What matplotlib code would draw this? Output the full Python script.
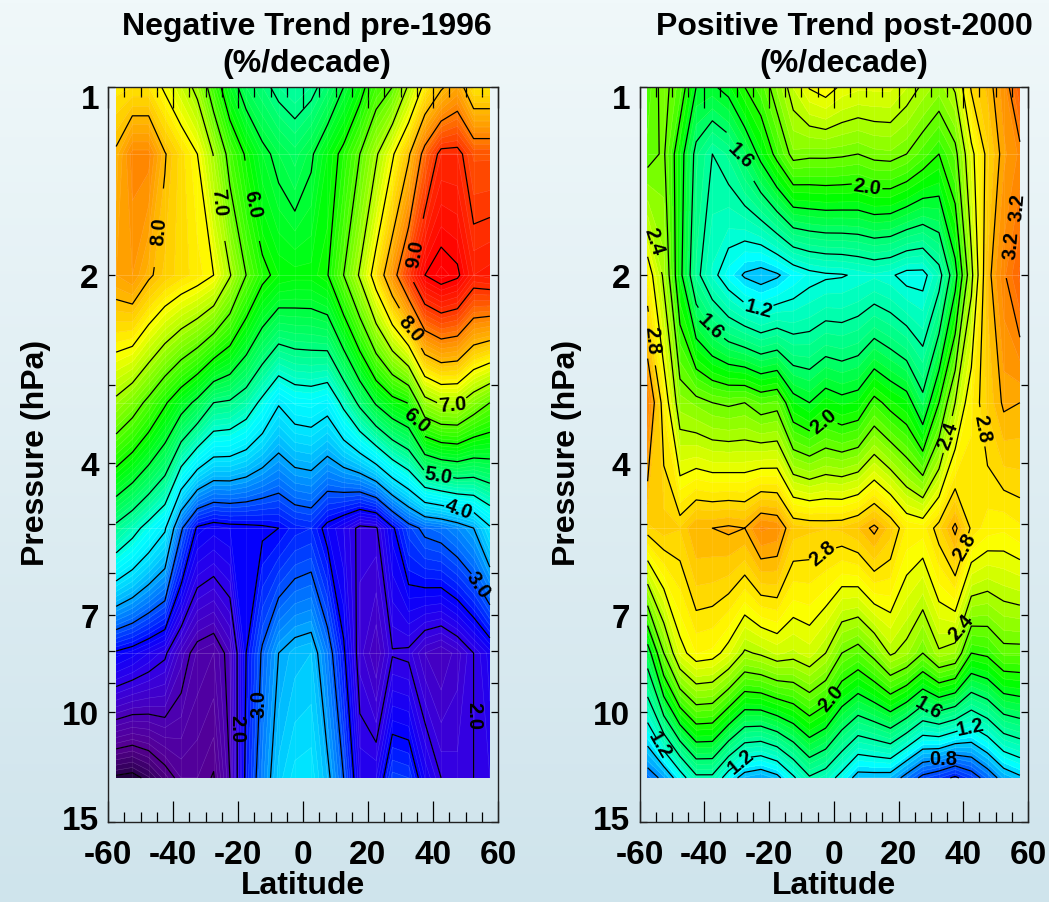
import numpy as np
import matplotlib
matplotlib.use('Agg')
import matplotlib.pyplot as plt
from matplotlib.colors import LinearSegmentedColormap
from matplotlib.ticker import NullFormatter
from matplotlib.transforms import ScaledTranslation

plt.rcParams['font.family'] = ['Liberation Sans', 'DejaVu Sans']
plt.rcParams['font.weight'] = 'bold'
plt.rcParams['axes.unicode_minus'] = False

lat = [-57.5, -52.5, -47.5, -42.5, -37.5, -32.5, -27.5, -22.5, -17.5, -12.5, -7.5, -2.5,
       2.5, 7.5, 12.5, 17.5, 22.5, 27.5, 32.5, 37.5, 42.5, 47.5, 52.5, 57.5]
pressure = [1.0, 1.28, 2.0, 3.2, 5.08, 8.05, 12.75]

pre_1996 = [
    [7.65, 7.7, 7.7, 7.45, 7.2, 6.9, 6.25, 5.7, 5.3, 5.1, 4.9, 4.8, 4.9, 5.15, 5.5, 5.85, 6.3, 6.5, 7.05, 7.6, 7.95, 8.2, 7.67, 7.67],
    [8.05, 8.45, 8.45, 8.02, 7.75, 7.5, 6.98, 6.35, 5.95, 5.6, 5.4, 5.25, 5.45, 5.8, 6.1, 6.5, 6.95, 7.45, 7.95, 8.65, 9.1, 9.1, 8.78, 8.78],
    [8.2, 8.3, 8.05, 7.87, 7.75, 7.65, 7.5, 7.03, 6.5, 6.1, 5.9, 5.85, 5.85, 5.98, 6.5, 7.05, 7.7, 8.33, 8.95, 9.5, 9.65, 9.55, 9.2, 9.25],
    [6.92, 6.7, 6.4, 6.05, 5.7, 5.4, 5.0, 4.95, 4.75, 4.4, 4.03, 4.22, 4.25, 4.15, 4.6, 5.1, 5.55, 5.85, 6.02, 6.85, 7.05, 7.05, 6.75, 6.5],
    [4.9, 4.65, 4.35, 4.05, 3.05, 2.45, 2.35, 2.4, 2.42, 2.45, 2.5, 2.65, 2.7, 2.4, 2.2, 1.93, 1.97, 2.45, 2.86, 3.08, 3.15, 3.3, 3.5, 3.95],
    [2.45, 2.35, 2.2, 2.05, 1.65, 1.38, 1.3, 1.6, 2.5, 3.05, 3.5, 3.65, 3.7, 3.2, 2.55, 1.85, 1.6, 1.98, 1.95, 1.7, 1.6, 1.75, 2.0, 2.25],
    [0.45, 0.4, 0.58, 0.85, 1.1, 1.1, 0.98, 1.5, 2.6, 3.25, 3.75, 3.95, 3.98, 3.6, 3.0, 2.2, 2.2, 2.85, 2.8, 2.3, 2.0, 1.95, 2.0, 2.1],
]
post_2000 = [
    [2.1, 2.25, 2.1, 1.8, 1.78, 1.85, 2.0, 2.1, 2.28, 2.47, 2.61, 2.66, 2.58, 2.55, 2.55, 2.55, 2.47, 2.38, 2.3, 2.42, 2.82, 2.95, 3.1, 3.4],
    [2.15, 2.22, 1.88, 1.55, 1.4, 1.48, 1.65, 1.85, 2.05, 2.25, 2.23, 2.23, 2.22, 2.2, 2.24, 2.25, 2.2, 2.1, 2.0, 2.15, 2.55, 2.85, 3.05, 3.15],
    [2.7, 2.37, 1.85, 1.45, 1.25, 1.1, 0.98, 0.93, 0.98, 1.08, 1.15, 1.18, 1.19, 1.22, 1.25, 1.22, 1.15, 1.15, 1.33, 1.73, 2.35, 2.95, 3.18, 3.35],
    [3.2, 2.72, 2.3, 2.25, 2.2, 2.18, 2.2, 2.12, 2.15, 1.87, 1.8, 1.9, 1.85, 1.88, 2.05, 1.95, 1.88, 1.65, 2.0, 2.4, 2.72, 2.88, 3.02, 3.0],
    [2.85, 2.9, 2.87, 3.0, 3.0, 3.02, 3.0, 3.15, 3.12, 2.9, 2.88, 2.87, 2.88, 2.93, 3.03, 2.9, 2.72, 2.7, 2.85, 3.03, 2.78, 2.7, 2.68, 2.72],
    [1.7, 2.2, 2.55, 2.67, 2.65, 2.55, 2.38, 2.42, 2.48, 2.45, 2.5, 2.4, 2.2, 2.13, 2.25, 2.42, 2.35, 2.2, 2.38, 2.33, 2.0, 2.03, 2.15, 2.15],
    [0.7, 0.85, 1.1, 1.36, 1.36, 1.1, 0.92, 0.87, 0.95, 1.17, 1.38, 1.3, 1.13, 0.93, 0.93, 0.92, 0.73, 0.55, 0.47, 0.37, 0.5, 0.68, 0.88, 0.97],
]

lat_ticks = [-60, -40, -20, 0, 20, 40, 60]
p_ticks = [1, 2, 4, 7, 10, 15]
p_minor = [3, 5, 6, 8, 9]

pre_labels = [2.0, 3.0, 4.0, 5.0, 6.0, 7.0, 8.0, 9.0]
post_labels = [0.8, 1.2, 1.6, 2.0, 2.4, 2.8, 3.2]
pre_spots = [(-45.4, 1.68), (-25.1, 1.51), (-15.7, 1.54), (33.8, 1.82), (32.8, 2.45), (45.9, 3.06), (34.7, 3.42),
             (42, 4.08), (48.4, 4.65), (54, 6.24), (53, 10.1), (-14.6, 9.68), (-20.2, 10.6)]
pre_angles = [85, -85, -78, 80, -50, 5, -40, -10, -20, -55, -90, 90, -90]
post_spots = [(-28.1, 1.23), (10.3, 1.44), (-55.7, 1.76), (-55.5, 2.53), (53.3, 1.47), (54.5, 1.76), (-23.3, 2.27),
              (-38.2, 2.42), (-4.3, 3.32), (34.3, 3.59), (46.6, 3.5), (-2, 5.69), (40, 5.42), (37.9, 7.28),
              (-1.2, 9.47), (30.2, 9.78), (41, 10.5), (31.9, 11.75), (-29.5, 11.96), (-52.6, 11.25)]
post_angles = [-45, -8, -72, -85, 85, 85, -15, -45, 40, 70, -80, 40, 60, 50, 50, -30, 12, 0, 40, -60]

pre_colors = [(0.3, (20, 0, 40)), (0.6, (50, 0, 90)), (1.0, (85, 0, 145)), (1.5, (75, 0, 180)), (2.0, (50, 0, 230)),
              (2.5, (0, 0, 255)), (3.0, (0, 90, 255)), (3.5, (0, 170, 255)), (3.9, (0, 225, 255)), (4.3, (0, 255, 255)),
              (4.8, (0, 255, 160)), (5.5, (0, 255, 60)), (5.9, (0, 255, 0)), (6.5, (90, 255, 0)), (7.2, (200, 255, 0)),
              (7.5, (255, 255, 0)), (8.0, (255, 190, 0)), (8.5, (255, 130, 0)), (9.0, (255, 50, 0)), (9.5, (255, 0, 0)),
              (10.0, (255, 0, 0))]
post_colors = [(0.3, (0, 0, 230)), (0.5, (0, 60, 255)), (0.7, (0, 110, 255)), (1.0, (0, 210, 255)), (1.1, (0, 255, 255)),
               (1.3, (0, 255, 190)), (1.6, (0, 255, 110)), (1.9, (0, 255, 0)), (2.2, (110, 255, 0)), (2.5, (210, 255, 0)),
               (2.65, (255, 255, 0)), (2.9, (255, 205, 0)), (3.1, (255, 150, 0)), (3.4, (255, 90, 0)), (3.6, (255, 60, 0))]


def make_cmap(anchors):
    lo, hi = anchors[0][0], anchors[-1][0]
    stops = [((v - lo) / (hi - lo), tuple(c / 255 for c in rgb)) for v, rgb in anchors]
    return LinearSegmentedColormap.from_list('trend', stops, N=512), lo, hi


def draw_panel(fig, rect, values, title, anchors, line_step, fill_step, labels, spots, angles, title_shift):
    ax = fig.add_axes(rect)
    cmap, lo, hi = make_cmap(anchors)
    fill_levels = np.arange(0, hi + fill_step, fill_step)
    ax.contourf(lat, pressure, values, levels=fill_levels, cmap=cmap, vmin=lo, vmax=hi)
    ax.contour(lat, pressure, values, levels=fill_levels, colors='white', linewidths=0.35, alpha=0.22)
    # faint seams along the data grid
    ax.hlines(pressure[1:-1], lat[0], lat[-1], colors='white', linewidths=0.5, alpha=0.25, zorder=1.5)
    ax.vlines(lat[1:-1], pressure[0], pressure[-1], colors='white', linewidths=0.4, alpha=0.12, zorder=1.5)
    line_levels = np.round(np.arange(line_step, hi, line_step), 1)
    plain_levels = [l for l in line_levels if l not in labels]
    ax.contour(lat, pressure, values, levels=plain_levels, colors='black', linewidths=0.9)
    # labelled levels get their own contour set so clabel can cut gaps in them
    cs = ax.contour(lat, pressure, values, levels=labels, colors='black', linewidths=0.9)
    txt = ax.clabel(cs, manual=spots, fmt='%.1f', fontsize=14.5, inline=True, inline_spacing=2)
    for t, angle in zip(txt, angles):
        t.set_fontweight('bold')
        t.set_rotation(angle)

    ax.set_yscale('log')
    ax.set_xlim(-60, 60)
    ax.set_ylim(15, 1)
    ax.patch.set_alpha(0)
    for s in ax.spines.values():
        s.set_linewidth(1.0)
        s.set_color('#222222')

    ax.set_xticks(lat_ticks)
    ax.set_xticks(np.arange(-60, 61, 5), minor=True)
    ax.tick_params(axis='x', which='major', direction='in', top=True, bottom=True, length=15, width=0.9, pad=12, labelsize=24)
    ax.tick_params(axis='x', which='minor', direction='in', top=True, bottom=True, length=7, width=0.9)
    ax.set_yticks(p_ticks)
    ax.set_yticks(p_minor, minor=True)
    ax.set_yticklabels([str(p) for p in p_ticks])
    ax.yaxis.set_minor_formatter(NullFormatter())
    ax.tick_params(axis='y', which='both', direction='in', left=True, right=True, length=5, width=0.9, pad=6.5, labelsize=24)

    # end labels sit inside the frame in the original
    ylabels = ax.get_yticklabels()
    ylabels[0].set_transform(ylabels[0].get_transform() + ScaledTranslation(0, -9 / 100, fig.dpi_scale_trans))
    ylabels[-1].set_transform(ylabels[-1].get_transform() + ScaledTranslation(0, 5 / 100, fig.dpi_scale_trans))

    ax.set_xlabel('Latitude', fontsize=23, fontweight='bold', labelpad=0.5)
    ax.set_ylabel('Pressure (hPa)', fontsize=23, fontweight='bold', labelpad=8, y=0.504)
    ax.text(0.5 + title_shift, 1.012, title, transform=ax.transAxes, ha='center', va='bottom', fontsize=23,
            fontweight='bold', linespacing=1.32)
    return ax


fig = plt.figure(figsize=(10.49, 9.03), dpi=100)

bg = fig.add_axes([0, 0, 1, 1], zorder=-1)
bg.imshow(np.linspace(0, 1, 256).reshape(-1, 1), aspect='auto',
          cmap=LinearSegmentedColormap.from_list('bg', ['#f0f8fa', '#cfe4ec']))
bg.axis('off')

draw_panel(fig, [108 / 1049, 80 / 903, 390 / 1049, 735 / 903], pre_1996, 'Negative Trend pre-1996\n(%/decade)',
           pre_colors, 0.5, 0.1, pre_labels, pre_spots, pre_angles, 0.01)
draw_panel(fig, [639.5 / 1049, 80 / 903, 388.5 / 1049, 735 / 903], post_2000, 'Positive Trend post-2000\n(%/decade)',
           post_colors, 0.2, 0.2 / 3, post_labels, post_spots, post_angles, 0.027)

fig.savefig('out.png', dpi=100)
